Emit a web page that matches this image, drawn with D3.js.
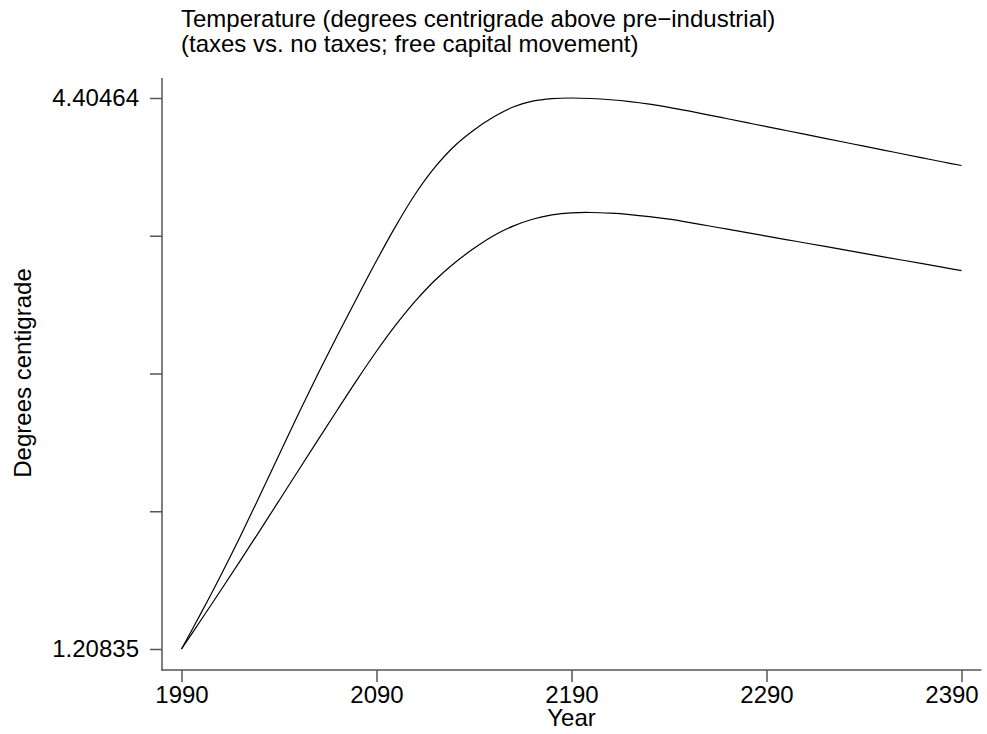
<!DOCTYPE html>
<html>
<head>
<meta charset="utf-8">
<script src="https://cdn.jsdelivr.net/npm/d3@7"></script>
<style>
  html, body { margin: 0; padding: 0; background: #fff; }
  text { font-family: "Liberation Sans", Arial, Helvetica, sans-serif; fill: #000; }
</style>
</head>
<body>
<svg id="chart" width="987" height="734"></svg>
<script>
const years = d3.range(1990, 2391, 10);
// no taxes (upper curve)
const noTaxes = [1.2084, 1.4164, 1.6324, 1.8584, 2.0944, 2.3344, 2.5724, 2.8044, 3.0284, 3.2463,
  3.4603, 3.6643, 3.8493, 4.0033, 4.1263, 4.2193, 4.2943, 4.3523, 4.3863, 4.4013,
  4.40464, 4.4016, 4.3946, 4.3836, 4.3686, 4.3506, 4.3296, 4.3071, 4.2843, 4.2615,
  4.2387, 4.2160, 4.1933, 4.1706, 4.1479, 4.1252, 4.1026, 4.0800, 4.0574, 4.0348, 4.0130];
// taxes (lower curve)
const taxes = [1.2084, 1.3764, 1.5464, 1.7184, 1.8924, 2.0684, 2.2454, 2.4214, 2.5964, 2.7695,
  2.9355, 3.0895, 3.2275, 3.3475, 3.4475, 3.5325, 3.6055, 3.6615, 3.7015, 3.7265,
  3.7385, 3.7405, 3.7365, 3.7285, 3.7165, 3.7015, 3.6835, 3.6635, 3.6435, 3.6235,
  3.6035, 3.5835, 3.5635, 3.5435, 3.5235, 3.5035, 3.4835, 3.4635, 3.4435, 3.4235, 3.4035];
const xTicks = [1990, 2090, 2190, 2290, 2390];
const yMin = 1.20835, yMax = 4.40464;
const yTicks = d3.range(5).map(i => yMin + (yMax - yMin) * i / 4);
const yTickLabels = ["1.20835", "", "", "", "4.40464"];
const titleLines = ["Temperature (degrees centrigrade above pre\u2212industrial)",
                    "(taxes vs. no taxes; free capital movement)"];
const xTitle = "Year", yTitle = "Degrees centigrade";

const svg = d3.select("#chart");
const x = d3.scaleLinear().domain([1990, 2390]).range([181.5, 961.5]);
const y = d3.scaleLinear().domain([yMin, yMax]).range([649, 98]);

const axisColor = "#555";
const fontSize = "24px";
// axis lines
svg.append("line").attr("x1", 162).attr("x2", 162).attr("y1", 78).attr("y2", 670.5)
  .attr("stroke", axisColor).attr("stroke-width", 1.5);
svg.append("line").attr("x1", 161.25).attr("x2", 981.5).attr("y1", 670).attr("y2", 670)
  .attr("stroke", axisColor).attr("stroke-width", 1.5);

// y axis
const yAxis = d3.axisLeft(y).tickValues(yTicks).tickSize(12).tickPadding(11)
  .tickFormat((d, i) => yTickLabels[i]);
const gy = svg.append("g").attr("transform", "translate(162,0)").call(yAxis);
gy.select(".domain").remove();
gy.selectAll(".tick line").attr("stroke", axisColor).attr("stroke-width", 1.5);
gy.selectAll(".tick text").style("font-size", fontSize)
  .style("font-family", "'Liberation Sans', Arial, sans-serif").attr("fill", "#000");

// x axis
const xAxis = d3.axisBottom(x).tickValues(xTicks).tickSize(12).tickPadding(4).tickFormat(d3.format("d"));
const gx = svg.append("g").attr("transform", "translate(0,670)").call(xAxis);
gx.select(".domain").remove();
gx.selectAll(".tick line").attr("stroke", axisColor).attr("stroke-width", 1.5);
gx.selectAll(".tick text").style("font-size", fontSize)
  .style("font-family", "'Liberation Sans', Arial, sans-serif").attr("fill", "#000")
  .attr("dx", (d, i) => i === xTicks.length - 1 ? -10 : 0);

// lines
const line = d3.line().x((d, i) => x(years[i])).y(d => y(d)).curve(d3.curveCatmullRom.alpha(0.5));
[noTaxes, taxes].forEach(s => {
  svg.append("path").datum(s).attr("d", line).attr("fill", "none")
    .attr("stroke", "#000").attr("stroke-width", 1.2);
});

// titles
titleLines.forEach((t, i) => {
  svg.append("text").attr("x", 181).attr("y", 27 + i * 24.5).style("font-size", fontSize).text(t);
});
svg.append("text").attr("x", 571.5).attr("y", 726).attr("text-anchor", "middle")
  .style("font-size", fontSize).text(xTitle);
svg.append("text").attr("transform", "translate(31,373) rotate(-90)").attr("text-anchor", "middle")
  .style("font-size", fontSize).text(yTitle);
</script>
</body>
</html>
